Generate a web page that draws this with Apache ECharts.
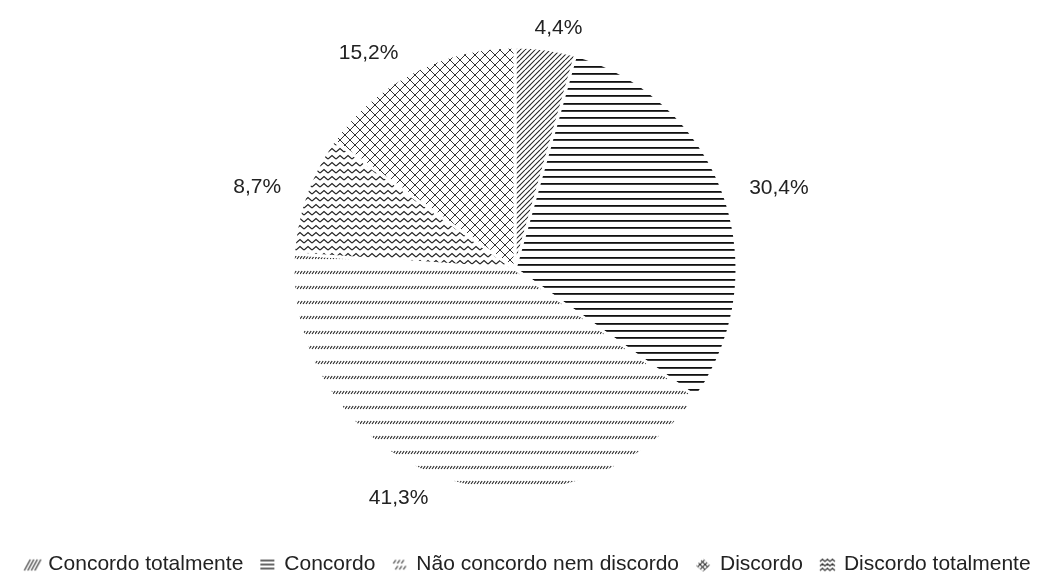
<!DOCTYPE html>
<html>
<head>
<meta charset="utf-8">
<script src="https://cdn.jsdelivr.net/npm/echarts@6/dist/echarts.min.js"></script>
<style>
html,body{margin:0;padding:0;background:#fff;}
#chart{width:1052px;height:583px;}
</style>
</head>
<body>
<div id="chart"></div>
<script>
// ---- data ----
const categories = ['Concordo totalmente', 'Concordo', 'Não concordo nem discordo', 'Discordo totalmente', 'Discordo'];
const values = [4.4, 30.4, 41.3, 8.7, 15.2];
const legendOrder = ['Concordo totalmente', 'Concordo', 'Não concordo nem discordo', 'Discordo', 'Discordo totalmente'];
const patternKinds = ['diag', 'horiz', 'dashdiag', 'wave', 'cross'];

// ---- patterns ----
const INK = '#222';
function makePattern(kind) {
  const c = document.createElement('canvas');
  let ctx;
  if (kind === 'diag') {
    c.width = 10; c.height = 10; ctx = c.getContext('2d');
    ctx.strokeStyle = INK; ctx.lineWidth = 1.05;
    for (let o = -10; o <= 20; o += 5) {
      ctx.beginPath(); ctx.moveTo(o, 10); ctx.lineTo(o + 10, 0); ctx.stroke();
    }
  } else if (kind === 'horiz') {
    c.width = 10; c.height = 22; ctx = c.getContext('2d');
    ctx.fillStyle = '#111';
    [0, 7, 15].forEach(y => ctx.fillRect(0, y, 10, 1.8));
  } else if (kind === 'dashdiag') {
    c.width = 15; c.height = 15; ctx = c.getContext('2d');
    ctx.strokeStyle = INK; ctx.lineWidth = 1.1;
    for (let x = 0; x < 15; x += 3) {
      ctx.beginPath(); ctx.moveTo(x, 4); ctx.lineTo(x + 2.2, 1); ctx.stroke();
    }
  } else if (kind === 'wave') {
    c.width = 8; c.height = 7; ctx = c.getContext('2d');
    ctx.strokeStyle = INK; ctx.lineWidth = 1.2;
    ctx.beginPath(); ctx.moveTo(0, 5); ctx.lineTo(4, 1.6); ctx.lineTo(8, 5); ctx.stroke();
  } else if (kind === 'cross') {
    c.width = 10; c.height = 10; ctx = c.getContext('2d');
    ctx.strokeStyle = '#333'; ctx.lineWidth = 1;
    ctx.beginPath(); ctx.moveTo(-1, -1); ctx.lineTo(11, 11); ctx.stroke();
    ctx.beginPath(); ctx.moveTo(-1, 11); ctx.lineTo(11, -1); ctx.stroke();
  }
  return { image: c, repeat: 'repeat' };
}

// ---- legend glyph icons ----
function makeIcon(kind) {
  const c = document.createElement('canvas');
  c.width = 22; c.height = 16;
  const ctx = c.getContext('2d');
  ctx.strokeStyle = '#333'; ctx.fillStyle = '#333'; ctx.lineWidth = 1.2;
  const line = (x1, y1, x2, y2) => { ctx.beginPath(); ctx.moveTo(x1, y1); ctx.lineTo(x2, y2); ctx.stroke(); };
  if (kind === 'diag') {
    for (let i = 0; i < 4; i++) line(3 + 3.5 * i, 14, 9 + 3.5 * i, 3);
  } else if (kind === 'horiz') {
    [4, 8, 12].forEach(y => ctx.fillRect(3, y - 0.7, 14, 1.5));
  } else if (kind === 'dashdiag') {
    [[4, 7], [8, 7], [12, 7], [6, 13], [10, 13], [14, 13]].forEach(([x, y]) => line(x, y, x + 2.5, y - 3.5));
  } else if (kind === 'cross') {
    ctx.save();
    ctx.beginPath(); ctx.moveTo(10, 2); ctx.lineTo(17, 9); ctx.lineTo(10, 15); ctx.lineTo(3, 9); ctx.closePath(); ctx.clip();
    ctx.lineWidth = 1.1;
    for (let o = -16; o <= 24; o += 5) { line(o, 0, o + 16, 16); line(o, 16, o + 16, 0); }
    ctx.restore();
  } else if (kind === 'wave') {
    [4, 8.5, 13].forEach(y => {
      ctx.beginPath(); ctx.moveTo(3, y + 1);
      for (let x = 3, k = 0; x < 17; x += 2.5, k++) ctx.lineTo(x + 2.5, k % 2 ? y + 1 : y - 1.2);
      ctx.stroke();
    });
  }
  return 'image://' + c.toDataURL();
}

const chart = echarts.init(document.getElementById('chart'), null, { renderer: 'canvas' });
const FONT = '"Liberation Sans", Arial, sans-serif';
const PIE_CENTER = [515, 269];

chart.setOption({
  animation: false,
  backgroundColor: '#fff',
  textStyle: { fontFamily: FONT },
  legend: {
    data: legendOrder.map(name => ({ name: name, icon: makeIcon(patternKinds[categories.indexOf(name)]) })),
    bottom: 3,
    left: 'center',
    itemWidth: 22,
    itemHeight: 16,
    itemGap: 14,
    textStyle: { fontSize: 21, color: '#222', fontFamily: FONT },
    selectedMode: false
  },
  series: [{
    type: 'pie',
    center: PIE_CENTER,
    radius: 222,
    startAngle: 90,
    clockwise: true,
    avoidLabelOverlap: false,
    emphasis: { disabled: true },
    itemStyle: { borderColor: '#fff', borderWidth: 3 },
    label: {
      show: true,
      position: 'outside',
      fontSize: 21,
      color: '#222',
      fontFamily: FONT,
      formatter: p => p.value.toFixed(1).replace('.', ',') + '%'
    },
    labelLine: { show: false, length: 21, length2: 0 },
    labelLayout: function (p) {
      // labels sitting almost straight above/below the centre are centred on their anchor
      const r = p.labelRect;
      if (p.align === 'left' && r.x - PIE_CENTER[0] < r.width) return { dx: -r.width / 2 + 5 };
      if (p.align === 'right' && PIE_CENTER[0] - (r.x + r.width) < r.width) return { dx: r.width / 2 - 5 };
      return {};
    },
    data: categories.map((name, i) => ({
      name: name,
      value: values[i],
      itemStyle: { color: makePattern(patternKinds[i]) }
    }))
  }]
});
</script>
</body>
</html>
